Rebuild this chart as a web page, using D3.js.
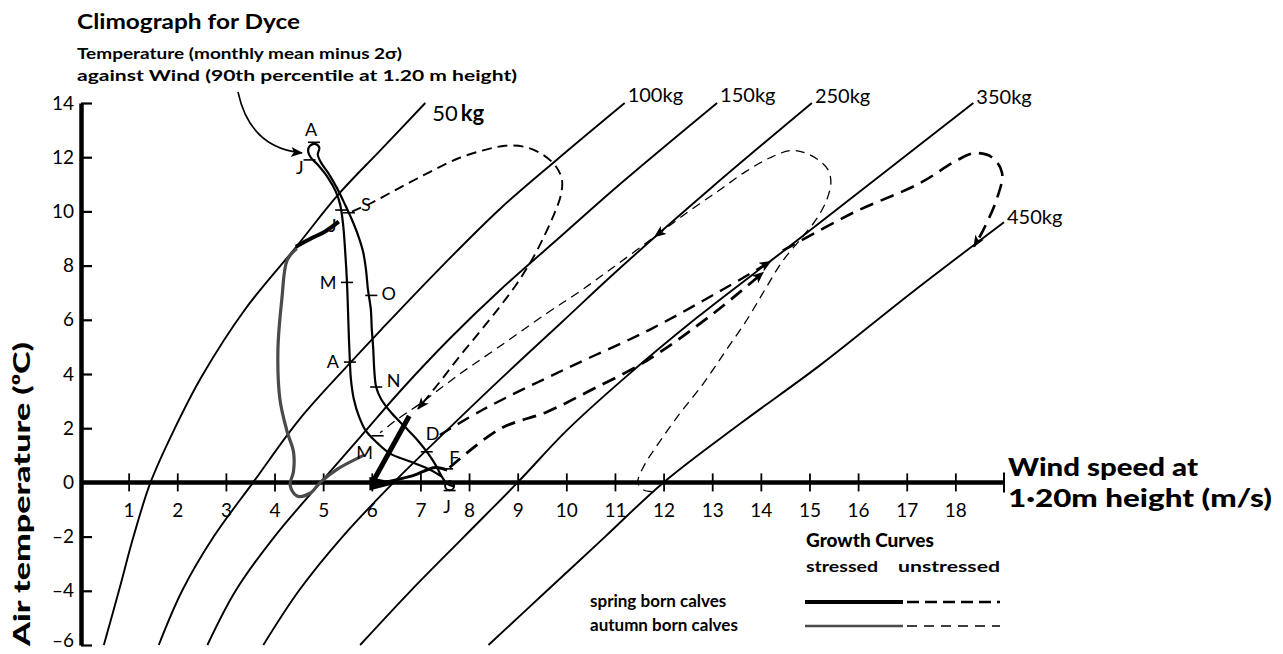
<!DOCTYPE html>
<html>
<head>
<meta charset="utf-8">
<script src="https://cdn.jsdelivr.net/npm/d3@7"></script>
<style>
  body { margin: 0; background: #fff; }
  svg { display: block; background: #fff; }
  text { font-family: Lato, "Open Sans", sans-serif; fill: #000; }
</style>
</head>
<body>
<svg id="chart" width="1283" height="654"></svg>
<script>

// ---- data (wind speed m/s, air temperature degC) ----
var windTicks = [1, 2, 3, 4, 5, 6, 7, 8, 9, 10, 11, 12, 13, 14, 15, 16, 17, 18];
var tempTicks = [-6, -4, -2, 0, 2, 4, 6, 8, 10, 12, 14];

var weightNames = ["50kg", "100kg", "150kg", "250kg", "350kg", "450kg"];
var curve50  = [[0.49,-6],[0.8,-4],[1.1,-2],[1.45,0],[1.95,2],[2.5,3.9],[3.4,6.4],[4.45,8.7],[5.3,10.6],[6.2,12.3],[7.1,14]];
var curve100 = [[1.62,-6],[2.1,-4],[2.75,-2],[3.56,0],[4.5,2.3],[5.55,4.4],[6.2,5.65],[7.4,7.9],[8.64,10.1],[9.8,11.9],[11.2,14]];
var curve150 = [[2.62,-6],[3.2,-4],[4.0,-2],[4.95,0],[5.8,1.75],[6.6,3.4],[7.6,5.3],[8.64,7.1],[9.9,9.1],[11.1,11.0],[13.1,14]];
var curve250 = [[3.77,-6],[4.5,-4],[5.4,-2],[6.45,0],[7.13,1.2],[8.64,3.8],[9.9,5.9],[11.1,7.9],[13.0,10.9],[15.05,14]];
var curve350 = [[5.76,-6],[6.8,-4],[7.9,-2],[9.0,0],[10.0,1.9],[11.1,3.7],[12.7,6.1],[14.4,8.45],[16.3,11.1],[18.37,14]];
var curve450 = [[8.4,-6],[9.6,-4],[10.8,-2],[12.0,0],[13.6,2.2],[15.2,4.3],[17.1,7.0],[19.0,9.6]];

// climograph for Dyce: monthly loop (left branch up, small loop at top, right branch down)
var climate = [[7.44,0.21],[7.2,0.47],[6.79,0.77],[6.38,1.06],[6.11,1.46],[5.88,1.9],[5.74,2.42],[5.63,3.08],
  [5.57,3.82],[5.55,4.44],[5.53,5.29],[5.51,6.39],[5.49,7.38],[5.45,8.6],[5.41,9.52],[5.35,10.25],[5.26,10.73],
  [5.1,11.24],[4.89,11.72],[4.75,11.98],[4.69,12.24],[4.73,12.42],[4.83,12.49],[4.92,12.35],[4.89,12.09],
  [4.96,11.79],[5.1,11.43],[5.29,10.84],[5.45,10.25],[5.59,9.7],[5.72,9.11],[5.82,8.52],[5.88,7.86],[5.92,7.13],
  [5.98,6.39],[6.0,5.65],[6.03,4.92],[6.05,4.18],[6.09,3.52],[6.19,3.08],[6.42,2.53],[6.68,2.05],[6.95,1.54],
  [7.16,1.06],[7.32,0.62],[7.44,0.21],[7.55,-0.05],[7.7,-0.15]];
var janLoop = [7.6, -0.12];

var monthNames = ["A", "J", "S", "J", "M", "O", "A", "N", "M", "D", "F", "J"];
var monthTick  = [[4.81,12.55],[4.72,11.9],[5.53,9.95],[5.37,10.05],[5.49,7.38],[5.99,6.9],[5.55,4.44],[6.09,3.52],[6.12,1.72],[7.13,1.13],[7.55,0.5],[7.6,-0.3]];
var monthLabel = [[4.75,12.95],[4.52,11.55],[5.88,10.2],[5.2,9.4],[5.1,7.3],[6.35,6.9],[5.2,4.4],[6.45,3.7],[5.85,1.05],[7.25,1.75],[7.7,0.85],[7.55,-0.95]];

// growth paths of the calves
var springStressedA = [[4.44,8.7],[4.75,9.0],[5.05,9.27],[5.32,9.62]];
var springStressedB = [[6.0,-0.05],[6.77,2.45]];
var springStressedC = [[6.3,0.02],[6.85,0.25],[7.3,0.55],[7.55,0.45]];
var springWedge     = [[5.95,0.2],[5.95,-0.3],[6.55,-0.02]];
var autumnStressed  = [[4.44,8.6],[4.26,8.2],[4.15,6.75],[4.07,4.9],[4.11,3.08],[4.26,1.87],[4.39,1.13],[4.39,0.4],
  [4.32,-0.1],[4.46,-0.5],[4.73,-0.4],[4.94,0],[5.3,0.5],[5.82,0.99]];

var springUnstressed1 = [[5.59,9.99],[6.0,10.32],[6.58,10.88],[7.2,11.46],[7.81,11.98],[8.33,12.27],[8.74,12.42],
  [9.15,12.38],[9.52,12.09],[9.79,11.65],[9.91,11.17],[9.89,10.62],[9.77,9.99],[9.58,9.22],[9.32,8.3],[8.99,7.35],
  [8.64,6.5],[8.23,5.58],[7.81,4.66],[7.4,3.71],[6.95,2.71]];
var springUnstressed2 = [[7.6,0.55],[8.64,1.98],[9.6,2.6],[10.5,3.4],[11.66,4.5],[13.0,6.2],[14.05,7.75]];
var springUnstressed3 = [[7.4,1.75],[8.3,2.7],[10.0,4.2],[11.72,5.64],[13.2,7.1],[14.2,8.15]];
var springUnstressed4 = [[14.45,8.55],[15.9,9.95],[17.27,11.04],[18.0,11.85],[18.4,12.15],[18.75,12.0],[18.96,11.42],
  [18.86,10.5],[18.57,9.3],[18.38,8.7]];
var autumnUnstressed = [[11.76,-0.34],[11.58,-0.27],[11.47,0],[11.62,0.69],[11.82,1.24],[12.3,2.46],[12.81,3.63],
  [13.26,4.81],[13.72,6.02],[14.09,7.13],[14.44,8.15],[14.81,8.96],[15.11,9.63],[15.34,10.36],[15.44,11.06],
  [15.38,11.54],[15.18,11.9],[14.91,12.16],[14.6,12.24],[14.19,11.98],[13.68,11.46],[13.16,10.8],[12.54,10.03],
  [11.82,9.07],[10.96,7.93],[10.28,7.05],[9.6,6.24],[8.64,5.03],[7.81,4.0],[6.99,2.9],[6.48,2.27],[6.17,1.83]];

// ---- layout ----
var svg = d3.select("#chart");
var x = d3.scaleLinear().domain([0, 19]).range([80, 1004]);
var y = d3.scaleLinear().domain([-6, 14]).range([645, 103]);

var line = d3.line().x(function(d){ return x(d[0]); }).y(function(d){ return y(d[1]); })
  .curve(d3.curveCatmullRom.alpha(0.5));
var straight = d3.line().x(function(d){ return x(d[0]); }).y(function(d){ return y(d[1]); });

var defs = svg.append("defs");
defs.append("marker").attr("id", "arr").attr("viewBox", "0 0 12 10").attr("refX", 11).attr("refY", 5)
  .attr("markerWidth", 13).attr("markerHeight", 10).attr("markerUnits", "userSpaceOnUse").attr("orient", "auto")
  .append("path").attr("d", "M0,0 L12,5 L0,10 L3,5 Z").attr("fill", "#000");

// titles
svg.append("text").attr("x", 77).attr("y", 29).attr("font-size", 21).attr("font-weight", 700)
  .attr("textLength", 223).attr("lengthAdjust", "spacingAndGlyphs").text("Climograph for Dyce");
svg.append("text").attr("x", 77).attr("y", 59).attr("font-size", 16).attr("font-weight", 700)
  .attr("textLength", 325).attr("lengthAdjust", "spacingAndGlyphs").text("Temperature (monthly mean minus 2\u03c3)");
svg.append("text").attr("x", 77).attr("y", 81).attr("font-size", 16).attr("font-weight", 700)
  .attr("textLength", 440).attr("lengthAdjust", "spacingAndGlyphs").text("against Wind (90th percentile at 1.20 m height)");

// pointer arrow from subtitle to the loop
svg.append("path").attr("d", "M238,92 Q250,148 302,153").attr("fill", "none").attr("stroke", "#000")
  .attr("stroke-width", 1.6).attr("marker-end", "url(#arr)");

// growth curves
var growth = [curve50, curve100, curve150, curve250, curve350, curve450];
svg.append("g").selectAll("path").data(growth).enter().append("path")
  .attr("d", line).attr("fill", "none").attr("stroke", "#000").attr("stroke-width", 1.9);

var labelOffset = [[7, 12], [3, -6], [3, -6], [3, -5], [3, -4], [3, -3]];
svg.append("g").selectAll("text").data(growth).enter().append("text")
  .attr("x", function(d, i){ return x(d[d.length - 1][0]) + labelOffset[i][0]; })
  .attr("y", function(d, i){ return y(d[d.length - 1][1]) + labelOffset[i][1]; })
  .attr("dominant-baseline", "middle").attr("font-size", function(d, i){ return i === 0 ? 22 : 20; })
  .each(function(d, i){
    var t = d3.select(this), name = weightNames[i];
    t.append("tspan").text(name.replace("kg", ""));
    t.append("tspan").attr("font-weight", i === 0 ? 700 : 400).attr("dx", i === 0 ? 3 : 0).text("kg");
  });

// axes
var xAxis = d3.axisBottom(x).tickValues(windTicks).tickSize(8).tickSizeOuter(0).tickPadding(13);
var gx = svg.append("g").attr("transform", "translate(0," + y(0) + ")").call(xAxis);
gx.select(".domain").attr("d", "M" + x(0) + ",0H" + x(19)).attr("stroke-width", 4.5);
gx.selectAll(".tick line").attr("y1", -9).attr("y2", 9).attr("stroke-width", 1.8);
gx.selectAll(".tick text").attr("font-size", 19).attr("font-family", "Lato");
gx.append("line").attr("x1", x(19)).attr("x2", x(19)).attr("y1", -10).attr("y2", 10).attr("stroke", "#000").attr("stroke-width", 2);

var yAxis = d3.axisLeft(y).tickValues(tempTicks).tickSize(-11).tickSizeOuter(0).tickPadding(7)
  .tickFormat(function(d){ return d < 0 ? "\u2013" + Math.abs(d) : d; });
var gy = svg.append("g").attr("transform", "translate(" + (x(0) + 1) + ",0)").call(yAxis);
gy.select(".domain").attr("stroke-width", 4.5);
gy.selectAll(".tick line").attr("stroke-width", 2.2);
gy.selectAll(".tick text").attr("font-size", 19).attr("font-family", "Lato")
  .attr("dy", function(d){ return d === -6 ? "0.1em" : "0.32em"; });

// axis titles
svg.append("text").attr("transform", "translate(30,646) rotate(-90)").attr("font-size", 22).attr("font-weight", 900)
  .attr("textLength", 304).attr("lengthAdjust", "spacingAndGlyphs").text("Air  temperature (\u2070C)");
svg.append("text").attr("x", 1008).attr("y", 476).attr("font-size", 24).attr("font-weight", 900)
  .attr("textLength", 190).attr("lengthAdjust", "spacingAndGlyphs").text("Wind  speed  at");
svg.append("text").attr("x", 1008).attr("y", 507).attr("font-size", 24).attr("font-weight", 900)
  .attr("textLength", 264).attr("lengthAdjust", "spacingAndGlyphs").text("1\u00b720m  height (m/s)");

// unstressed (dashed) growth paths
svg.append("path").attr("d", line(springUnstressed1)).attr("fill", "none").attr("stroke", "#000")
  .attr("stroke-width", 1.9).attr("stroke-dasharray", "10,6").attr("marker-end", "url(#arr)");
svg.append("path").attr("d", line(autumnUnstressed)).attr("fill", "none").attr("stroke", "#000")
  .attr("stroke-width", 1.3).attr("stroke-dasharray", "9,6");
svg.append("path").attr("d", line(springUnstressed2)).attr("fill", "none").attr("stroke", "#000")
  .attr("stroke-width", 2.8).attr("stroke-dasharray", "14,8").attr("marker-end", "url(#arr)");
svg.append("path").attr("d", line(springUnstressed3)).attr("fill", "none").attr("stroke", "#000")
  .attr("stroke-width", 2.4).attr("stroke-dasharray", "13,8").attr("marker-end", "url(#arr)");
svg.append("path").attr("d", line(springUnstressed4)).attr("fill", "none").attr("stroke", "#000")
  .attr("stroke-width", 2.6).attr("stroke-dasharray", "14,8").attr("marker-end", "url(#arr)");

// arrow on the autumn unstressed return branch
var ai = 23;
svg.append("path").attr("d", straight([autumnUnstressed[ai - 1], autumnUnstressed[ai]])).attr("fill", "none")
  .attr("stroke", "none").attr("marker-end", "url(#arr)");

// stressed paths
svg.append("path").attr("d", line(autumnStressed)).attr("fill", "none").attr("stroke", "#4a4a4a")
  .attr("stroke-width", 3.2).attr("stroke-linecap", "round");
svg.append("path").attr("d", line(springStressedA)).attr("fill", "none").attr("stroke", "#000").attr("stroke-width", 4);
svg.append("path").attr("d", straight(springStressedB)).attr("fill", "none").attr("stroke", "#000").attr("stroke-width", 5);
svg.append("path").attr("d", line(springStressedC)).attr("fill", "none").attr("stroke", "#000").attr("stroke-width", 3);
svg.append("path").attr("d", straight(springWedge) + "Z").attr("fill", "#000");

// climograph
svg.append("path").attr("d", line(climate)).attr("fill", "none").attr("stroke", "#000").attr("stroke-width", 2.2);
svg.append("circle").attr("cx", x(janLoop[0])).attr("cy", y(janLoop[1])).attr("r", 4.5)
  .attr("fill", "none").attr("stroke", "#000").attr("stroke-width", 2);

svg.append("g").selectAll("line").data(monthTick).enter().append("line")
  .attr("x1", function(d){ return x(d[0]) - 6; }).attr("x2", function(d){ return x(d[0]) + 6; })
  .attr("y1", function(d){ return y(d[1]); }).attr("y2", function(d){ return y(d[1]); })
  .attr("stroke", "#000").attr("stroke-width", 1.6);
svg.append("g").selectAll("text").data(monthLabel).enter().append("text")
  .attr("x", function(d){ return x(d[0]); }).attr("y", function(d){ return y(d[1]); })
  .attr("text-anchor", "middle").attr("dominant-baseline", "middle").attr("font-size", 18)
  .text(function(d, i){ return monthNames[i]; });

// legend
var lg = svg.append("g");
lg.append("text").attr("x", 806).attr("y", 547).attr("font-size", 19).attr("font-weight", 900).text("Growth Curves");
lg.append("text").attr("x", 806).attr("y", 572).attr("font-size", 16).attr("font-weight", 700)
  .attr("textLength", 72).attr("lengthAdjust", "spacingAndGlyphs").text("stressed");
lg.append("text").attr("x", 898).attr("y", 572).attr("font-size", 16).attr("font-weight", 700)
  .attr("textLength", 102).attr("lengthAdjust", "spacingAndGlyphs").text("unstressed");
lg.append("text").attr("x", 590).attr("y", 607).attr("font-size", 17).attr("font-weight", 700).text("spring born calves");
lg.append("text").attr("x", 590).attr("y", 631).attr("font-size", 17).attr("font-weight", 700).text("autumn born calves");
lg.append("line").attr("x1", 805).attr("x2", 903).attr("y1", 602).attr("y2", 602).attr("stroke", "#000").attr("stroke-width", 4);
lg.append("line").attr("x1", 907).attr("x2", 1000).attr("y1", 602).attr("y2", 602).attr("stroke", "#000").attr("stroke-width", 2.5).attr("stroke-dasharray", "12,6");
lg.append("line").attr("x1", 805).attr("x2", 903).attr("y1", 626).attr("y2", 626).attr("stroke", "#4a4a4a").attr("stroke-width", 2.6);
lg.append("line").attr("x1", 907).attr("x2", 1000).attr("y1", 626).attr("y2", 626).attr("stroke", "#000").attr("stroke-width", 1.6).attr("stroke-dasharray", "10,7");

</script>
</body>
</html>
